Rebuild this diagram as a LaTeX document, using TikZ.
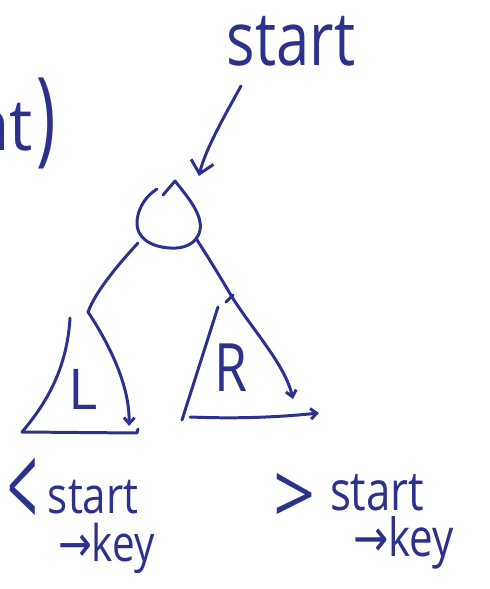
\documentclass[tikz,border=0pt]{standalone}
\usepackage{fontspec}
\setmainfont{Open Sans}
\newfontfamily\arrfont{DejaVu Sans}
\usetikzlibrary{arrows.meta}
\definecolor{ink}{RGB}{44,50,140}
\begin{document}
\begin{tikzpicture}[x=0.02cm,y=-0.02cm,
  pen/.style={draw=ink,line width=1.7pt,line cap=round,line join=round},
  txt/.style={text=ink,inner sep=0pt,outer sep=0pt},
  bigbarb/.style={-{Straight Barb[length=7pt,width=13pt]}},
  smallbarb/.style={-{Straight Barb[length=3.5pt,width=6pt]}}]
\useasboundingbox (0,0) rectangle (490,589);
\clip (0,0) rectangle (490,589);
\fill[white] (0,0) rectangle (490,589);

% texts
\node[txt,anchor=base] (starttop) at (291,65) {\fontsize{34}{34}\selectfont\scalebox{1}[1.25]{start}};
\node[txt,anchor=base east] (nt) at (33,150) {\fontsize{34}{34}\selectfont\scalebox{1.1}[1.2]{nt}};
\node[txt] (paren) at (46,123) {\fontsize{34}{34}\selectfont\scalebox{1.1}[1.75]{)}};

% root node (teardrop)
\coordinate (root) at (170,218);
\draw[pen] (163,195) -- (175,181) .. controls (186,195) and (203,214) .. (200,230)
  .. controls (197,245) and (182,249) .. (170,248)
  .. controls (150,247) and (136,237) .. (137,222)
  .. controls (138,205) and (149,194) .. (157,189);

% arrow start -> root
\coordinate (aS) at (241,86);
\coordinate (aE) at (199,176);
\draw[pen,bigbarb] (aS) .. controls (225,115) and (205,150) .. (aE);

% left connector
\coordinate (lA) at (138,243);
\coordinate (lK) at (88,312);
\coordinate (lE) at (129,426);
\draw[pen] (lA) .. controls (115,268) and (95,293) .. (lK);
\draw[pen,smallbarb] (lK) .. controls (108,342) and (130,385) .. (lE);

% right connector
\coordinate (rA) at (197,240);
\coordinate (rK) at (232,297);
\coordinate (rE) at (293,399);
\draw[pen] (rA) .. controls (210,260) and (222,280) .. (rK);
\draw[pen] (226,302) -- (233,295);
\draw[pen,smallbarb] (rK) .. controls (255,333) and (285,365) .. (rE);

% L triangle
\coordinate (Ltop) at (70,318);
\coordinate (Lbl) at (22,432);
\coordinate (Lbr) at (138,432);
\draw[pen] (Ltop) .. controls (67,370) and (45,405) .. (Lbl) -- (137,433) -- (138,429);
\node[txt] (Llab) at (83,389) {\fontsize{32}{32}\selectfont L};

% R triangle
\coordinate (Rtop) at (218,307);
\coordinate (Rbl) at (182,420);
\draw[pen] (Rtop) -- (Rbl);
\coordinate (Rb1) at (190,417);
\coordinate (Rb2) at (319,413);
\draw[pen,smallbarb] (Rb1) .. controls (240,419) and (280,417) .. (Rb2);
\node[txt] (Rlab) at (231,368) {\fontsize{38}{38}\selectfont\scalebox{0.8}[1]{R}};

% bottom left labels
\node[txt] (lt) at (23,494) {\fontsize{32}{32}\selectfont\scalebox{0.95}[2.1]{<}};
\node[txt,anchor=base west] (lstart) at (48,513) {\fontsize{24}{24}\selectfont\scalebox{1}[1.2]{start}};
\node[txt,anchor=base west] (lkey) at (58,561) {\fontsize{23}{23}\selectfont\scalebox{1}[1.25]{{\arrfont →}key}};

% bottom right labels
\node[txt] (gt) at (295,499) {\fontsize{30}{30}\selectfont\scalebox{1.4}[1.6]{>}};
\node[txt,anchor=base west] (rstart) at (330,510) {\fontsize{25}{25}\selectfont\scalebox{1}[1.25]{start}};
\node[txt,anchor=base west] (rkey) at (353,556) {\fontsize{24}{24}\selectfont\scalebox{1}[1.25]{{\arrfont →}key}};
\end{tikzpicture}
\end{document}
